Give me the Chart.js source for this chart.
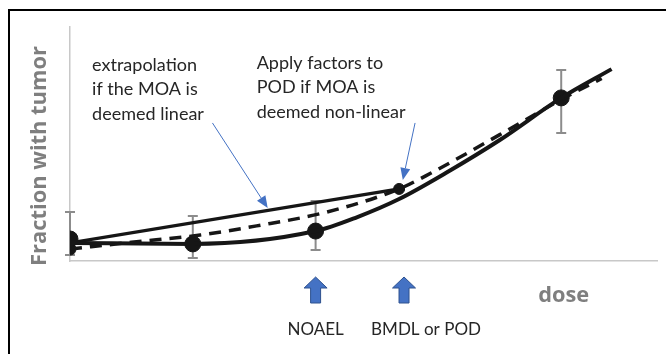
<!DOCTYPE html>
<html>
<head>
<meta charset="utf-8">
<script src="https://cdn.jsdelivr.net/npm/chart.js@4.4.1/dist/chart.umd.min.js"></script>
<style>
  html, body { margin: 0; padding: 0; background: #fff; }
  #wrap { position: relative; width: 666px; height: 354px; overflow: hidden; }
  #frame { position: absolute; left: 8px; top: 9px; width: 700px; height: 400px;
           border-left: 2.5px solid #000; border-top: 2.5px solid #000; }
  canvas { position: absolute; left: 0; top: 0; }
</style>
</head>
<body>
<div id="wrap">
  <div id="frame"></div>
  <canvas id="c" width="666" height="354"></canvas>
</div>
<script>
// ---- data (dose units arbitrary, response = fraction with tumor) ----
const doses     = [0, 1, 2, 4];
const observed  = [0.094, 0.073, 0.128, 0.697];
const errLow    = [0.026, 0.013, 0.047, 0.547];
const errHigh   = [0.209, 0.192, 0.256, 0.816];

const solidX = [0, 1, 2, 2.34, 2.68, 3.06, 3.5, 4, 4.41];
const solidY = [0.077, 0.073, 0.128, 0.188, 0.265, 0.376, 0.517, 0.697, 0.82];

const dashX = [0, 0.5, 1.06, 1.52, 2.09, 2.68, 2.94, 3.5, 4, 4.33];
const dashY = [0.051, 0.08, 0.111, 0.15, 0.209, 0.308, 0.376, 0.54, 0.69, 0.78];

const linearX = [0, 2.68];
const linearY = [0.077, 0.308];

const extraX = [0, 2.68];
const extraY = [0.051, 0.308];
const extraR = [6, 5.5];

const markerDoses  = [2, 2.72];
const markerLabels = ['NOAEL', 'BMDL or POD'];

const note1Lines = ['extrapolation', 'if the MOA is', 'deemed linear'];
const note1At    = [0.18, 0.838];   // dose, fraction (first line centre)
const note1Arrow = [1.16, 0.59, 1.61, 0.226];
const note2Lines = ['Apply factors to', 'POD if MOA is', 'deemed non-linear'];
const note2At    = [1.52, 0.846];
const note2Arrow = [2.81, 0.59, 2.71, 0.346];

const xTitle = 'dose';
const yTitle = 'Fraction with tumor';

const toXY = (xs, ys) => xs.map((x, i) => ({x: x, y: ys[i]}));

function fitSize(ctx, text, width, weight, family) {
  ctx.font = weight + ' 100px ' + family;
  return 100 * width / ctx.measureText(text).width;
}

const errorBars = {
  id: 'errorBars',
  beforeDatasetsDraw(chart) {
    const {ctx, scales: {x, y}} = chart;
    ctx.save();
    ctx.strokeStyle = '#8c8c8c';
    ctx.lineWidth = 2;
    doses.forEach((d, i) => {
      const px = x.getPixelForValue(d);
      const lo = y.getPixelForValue(errLow[i]);
      const hi = y.getPixelForValue(errHigh[i]);
      ctx.beginPath();
      ctx.moveTo(px, lo); ctx.lineTo(px, hi);
      ctx.moveTo(px - 5, lo); ctx.lineTo(px + 5, lo);
      ctx.moveTo(px - 5, hi); ctx.lineTo(px + 5, hi);
      ctx.stroke();
    });
    ctx.restore();
  }
};

function thinArrow(ctx, x0, y0, x1, y1) {
  const ang = Math.atan2(y1 - y0, x1 - x0);
  const L = 12, W = 5;
  const bx = x1 - L * Math.cos(ang), by = y1 - L * Math.sin(ang);
  ctx.beginPath();
  ctx.moveTo(x0, y0); ctx.lineTo(bx, by);
  ctx.stroke();
  ctx.beginPath();
  ctx.moveTo(x1, y1);
  ctx.lineTo(bx + W * Math.sin(ang), by - W * Math.cos(ang));
  ctx.lineTo(bx - W * Math.sin(ang), by + W * Math.cos(ang));
  ctx.closePath();
  ctx.fill();
}

const annotations = {
  id: 'annotations',
  afterDraw(chart) {
    const {ctx, chartArea: a, scales: {x, y}} = chart;
    ctx.save();
    // notes
    const noteSize = fitSize(ctx, 'deemed non-linear', 149, '400', 'Lato');
    ctx.font = '400 ' + noteSize + 'px Lato';
    ctx.fillStyle = '#262626';
    ctx.textBaseline = 'middle';
    ctx.textAlign = 'left';
    note1Lines.forEach((t, i) => ctx.fillText(t, x.getPixelForValue(note1At[0]), y.getPixelForValue(note1At[1]) + i * 24.5));
    note2Lines.forEach((t, i) => ctx.fillText(t, x.getPixelForValue(note2At[0]), y.getPixelForValue(note2At[1]) + i * 24.5));
    // thin arrows
    ctx.strokeStyle = '#4472C4';
    ctx.fillStyle = '#4472C4';
    ctx.lineWidth = 1;
    [note1Arrow, note2Arrow].forEach(ar => thinArrow(ctx,
      x.getPixelForValue(ar[0]), y.getPixelForValue(ar[1]),
      x.getPixelForValue(ar[2]), y.getPixelForValue(ar[3])));
    // block arrows + labels
    const labSize = fitSize(ctx, 'BMDL or POD', 110, '400', 'Lato');
    markerDoses.forEach((d, i) => {
      const cx = x.getPixelForValue(d);
      const top = a.bottom + 16;
      ctx.beginPath();
      ctx.moveTo(cx, top);
      ctx.lineTo(cx + 11.5, top + 11);
      ctx.lineTo(cx + 5, top + 11);
      ctx.lineTo(cx + 5, top + 26);
      ctx.lineTo(cx - 5, top + 26);
      ctx.lineTo(cx - 5, top + 11);
      ctx.lineTo(cx - 11.5, top + 11);
      ctx.closePath();
      ctx.fillStyle = '#4472C4';
      ctx.fill();
      ctx.strokeStyle = '#2F528F';
      ctx.lineWidth = 1;
      ctx.stroke();
      ctx.fillStyle = '#262626';
      ctx.font = '400 ' + labSize + 'px Lato';
      ctx.textAlign = 'center';
      ctx.textBaseline = 'middle';
      ctx.fillText(markerLabels[i], cx + (i === 1 ? 22 : 0), a.bottom + 69);
    });
    // axis titles
    ctx.fillStyle = '#7f7f7f';
    const xs = fitSize(ctx, xTitle, 51, '700', '"Open Sans"');
    ctx.font = '700 ' + xs + 'px "Open Sans"';
    ctx.textAlign = 'center';
    ctx.fillText(xTitle, x.getPixelForValue(4.02), a.bottom + 35);
    const ys = fitSize(ctx, yTitle, 220, '700', '"Open Sans"');
    ctx.font = '700 ' + ys + 'px "Open Sans"';
    ctx.translate(a.left - 30, (a.top + a.bottom) / 2 + 12);
    ctx.rotate(-Math.PI / 2);
    ctx.fillText(yTitle, 0, 0);
    ctx.restore();
  }
};

new Chart(document.getElementById('c'), {
  type: 'scatter',
  data: {
    datasets: [
      { type: 'line', data: toXY(solidX, solidY), borderColor: '#161616', borderWidth: 4,
        pointRadius: 0, cubicInterpolationMode: 'monotone', fill: false },
      { type: 'line', data: toXY(dashX, dashY), borderColor: '#161616', borderWidth: 3.5,
        borderDash: [12, 8], pointRadius: 0, cubicInterpolationMode: 'monotone', fill: false },
      { type: 'line', data: toXY(linearX, linearY), borderColor: '#161616', borderWidth: 3.2,
        pointRadius: 0, fill: false },
      { data: toXY(doses, observed), backgroundColor: '#161616', borderColor: '#161616',
        pointRadius: 8, showLine: false },
      { data: toXY(extraX, extraY), backgroundColor: '#161616', borderColor: '#161616',
        pointRadius: extraR, showLine: false }
    ]
  },
  options: {
    responsive: false,
    animation: false,
    layout: { padding: { left: 70, right: 8, top: 27, bottom: 93 } },
    plugins: { legend: { display: false }, tooltip: { enabled: false } },
    scales: {
      x: { type: 'linear', min: 0, max: 4.78,
           ticks: { display: false }, grid: { display: false, drawTicks: false },
           border: { display: true, color: '#c8c8c8', width: 1.5 } },
      y: { type: 'linear', min: 0, max: 1,
           ticks: { display: false }, grid: { display: false, drawTicks: false },
           border: { display: true, color: '#c8c8c8', width: 1.5 } }
    }
  },
  plugins: [errorBars, annotations]
});
</script>
</body>
</html>
